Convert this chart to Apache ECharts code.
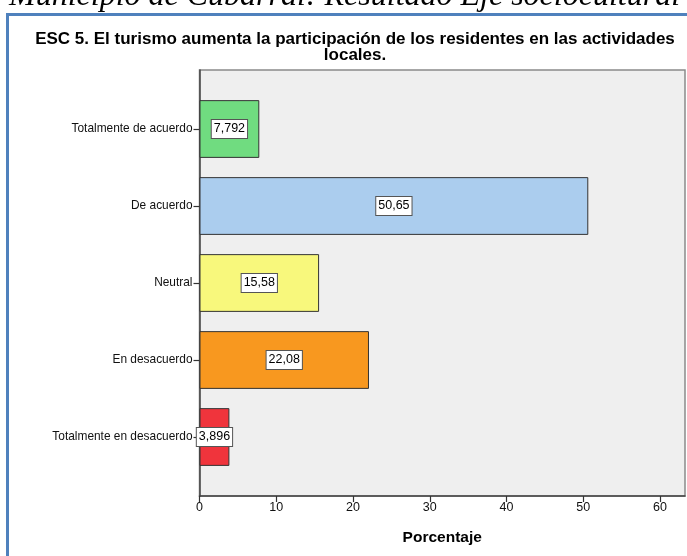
<!DOCTYPE html>
<html>
<head>
<meta charset="utf-8">
<script src="https://cdn.jsdelivr.net/npm/echarts@6/dist/echarts.min.js"></script>
<style>
html,body{margin:0;padding:0;background:#fff;}
#chart{width:687px;height:556px;}
</style>
</head>
<body>
<div id="chart"></div>
<script>
const categories = ['Totalmente de acuerdo', 'De acuerdo', 'Neutral', 'En desacuerdo', 'Totalmente en desacuerdo'];
const percentages = [7.792, 50.65, 15.58, 22.08, 3.896];
const barColors = ['#70dc80', '#abcdee', '#f8f87c', '#f8981f', '#f0343c'];
const xTicks = [0, 10, 20, 30, 40, 50, 60];
const chartTitle = 'ESC 5. El turismo aumenta la participación de los residentes en las actividades\nlocales.';
const topCaption = 'Municipio de Cubarral: Resultado Eje sociocultural';
const axisName = 'Porcentaje';

const FONT = '"Liberation Sans", Arial, sans-serif';
const chart = echarts.init(document.getElementById('chart'), null, {renderer: 'canvas'});

const gridLeft = 199.5, gridRight = 2;
const xMax = 63.25;

const option = {
  backgroundColor: '#ffffff',
  animation: false,
  title: [
    {
      text: topCaption,
      left: 4, top: -24,
      textStyle: {fontFamily: '"Liberation Serif", "Times New Roman", serif', fontStyle: 'italic', fontWeight: 'normal', fontSize: 32, color: '#000'}
    },
    {
      text: chartTitle,
      left: 350, top: 26, textAlign: 'center',
      textStyle: {fontFamily: FONT, fontWeight: 'bold', fontSize: 17, lineHeight: 16, color: '#000'}
    }
  ],
  graphic: [
    {type: 'rect', z: -10, silent: true, shape: {x: 7.5, y: 14.5, width: 700, height: 560}, style: {fill: 'none', stroke: '#4f81bd', lineWidth: 3}}
  ],
  grid: [
    {left: gridLeft, right: gridRight, top: 70, bottom: 60, show: true, backgroundColor: '#efefef', borderColor: '#8a8a8a', borderWidth: 1.5},
    {left: gridLeft, right: gridRight, top: 90.5, bottom: 80.5}
  ],
  xAxis: [
    {
      gridIndex: 0, type: 'value', min: 0, max: xMax, interval: 10,
      axisLine: {show: true, lineStyle: {color: '#444', width: 1.5}},
      axisTick: {show: true, length: 6, lineStyle: {color: '#333', width: 1.2}, customValues: xTicks},
      axisLabel: {fontFamily: FONT, fontSize: 12.5, color: '#111', margin: 5, customValues: xTicks},
      splitLine: {show: false},
      name: axisName, nameLocation: 'middle', nameGap: 34,
      nameTextStyle: {fontFamily: FONT, fontWeight: 'bold', fontSize: 15.5, color: '#000'}
    },
    {gridIndex: 1, type: 'value', min: 0, max: xMax, show: false}
  ],
  yAxis: [
    {
      gridIndex: 0, type: 'value', min: 0, max: 1,
      axisLine: {show: true, lineStyle: {color: '#444', width: 1.5}},
      axisTick: {show: false}, axisLabel: {show: false}, splitLine: {show: false}
    },
    {
      gridIndex: 1, type: 'category', data: categories, inverse: true,
      axisLine: {show: false},
      axisTick: {show: true, alignWithLabel: true, length: 6, lineStyle: {color: '#333', width: 1.2}},
      axisLabel: {fontFamily: FONT, fontSize: 11.9, color: '#111', margin: 7}
    }
  ],
  series: [
    {
      type: 'bar', xAxisIndex: 1, yAxisIndex: 1,
      barWidth: '75%',
      data: percentages.map((v, i) => ({value: v, itemStyle: {color: barColors[i]}})),
      itemStyle: {borderColor: '#333', borderWidth: 1},
      label: {
        show: true, position: 'inside',
        formatter: p => String(p.value).replace('.', ','),
        fontFamily: FONT, fontSize: 12.5, color: '#000',
        backgroundColor: '#fff', borderColor: '#555', borderWidth: 1, padding: [3, 2, 2, 2]
      }
    }
  ]
};
chart.setOption(option);
</script>
</body>
</html>
